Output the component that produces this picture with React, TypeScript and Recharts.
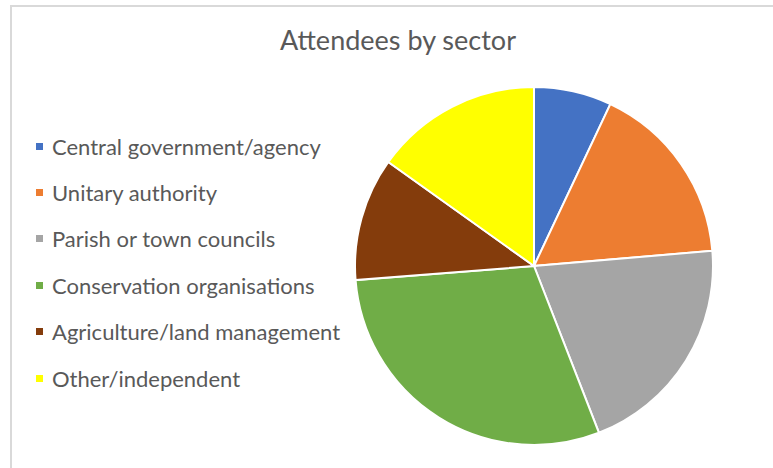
import React from "react";
import { Pie, PieChart } from "recharts";

const sectors = [
  "Central government/agency",
  "Unitary authority",
  "Parish or town councils",
  "Conservation organisations",
  "Agriculture/land management",
  "Other/independent",
];
const attendees = [7.0, 16.6, 20.4, 29.6, 11.1, 15.1];
const sliceColors = ["#4472c4", "#ed7d31", "#a5a5a5", "#70ad47", "#843c0c", "#ffff00"];

const chartData = sectors.map((name, i) => ({ name, value: attendees[i], fill: sliceColors[i] }));

const FONT = "Lato, 'Open Sans', sans-serif";

function SectorLegend() {
  return (
    <ul style={{ position: "absolute", left: 36, top: 123, listStyle: "none", margin: 0, padding: 0 }}>
      {chartData.map((item) => (
        <li key={item.name} style={{ display: "flex", alignItems: "center", height: 46.4 }}>
          <span style={{ width: 7, height: 7, background: item.fill, marginRight: 9, flexShrink: 0 }} />
          <span style={{ fontFamily: FONT, fontSize: 22, color: "#595959", whiteSpace: "nowrap" }}>{item.name}</span>
        </li>
      ))}
    </ul>
  );
}

export default function App() {
  return (
    <div style={{ position: "relative", width: 773, height: 468, overflow: "hidden", background: "#fff" }}>
      <style>{`body { margin: 0; }`}</style>
      <div
        style={{
          position: "absolute",
          left: 10,
          top: 5,
          width: 762,
          height: 470,
          borderLeft: "2px solid #d9d9d9",
          borderTop: "2px solid #d9d9d9",
        }}
      />
      <div
        style={{
          position: "absolute",
          left: 0,
          width: 796,
          top: 23,
          textAlign: "center",
          fontFamily: FONT,
          fontSize: 27,
          color: "#595959",
        }}
      >
        Attendees by sector
      </div>
      <div style={{ position: "absolute", left: 0, top: 0 }}>
        <PieChart width={773} height={468} margin={{ top: 0, right: 0, bottom: 0, left: 0 }}>
          <Pie
            data={chartData}
            dataKey="value"
            nameKey="name"
            cx={534}
            cy={266}
            outerRadius={179}
            startAngle={90}
            endAngle={-270}
            stroke="#ffffff"
            strokeWidth={2}
            isAnimationActive={false}
          />
        </PieChart>
      </div>
      <SectorLegend />
    </div>
  );
}
